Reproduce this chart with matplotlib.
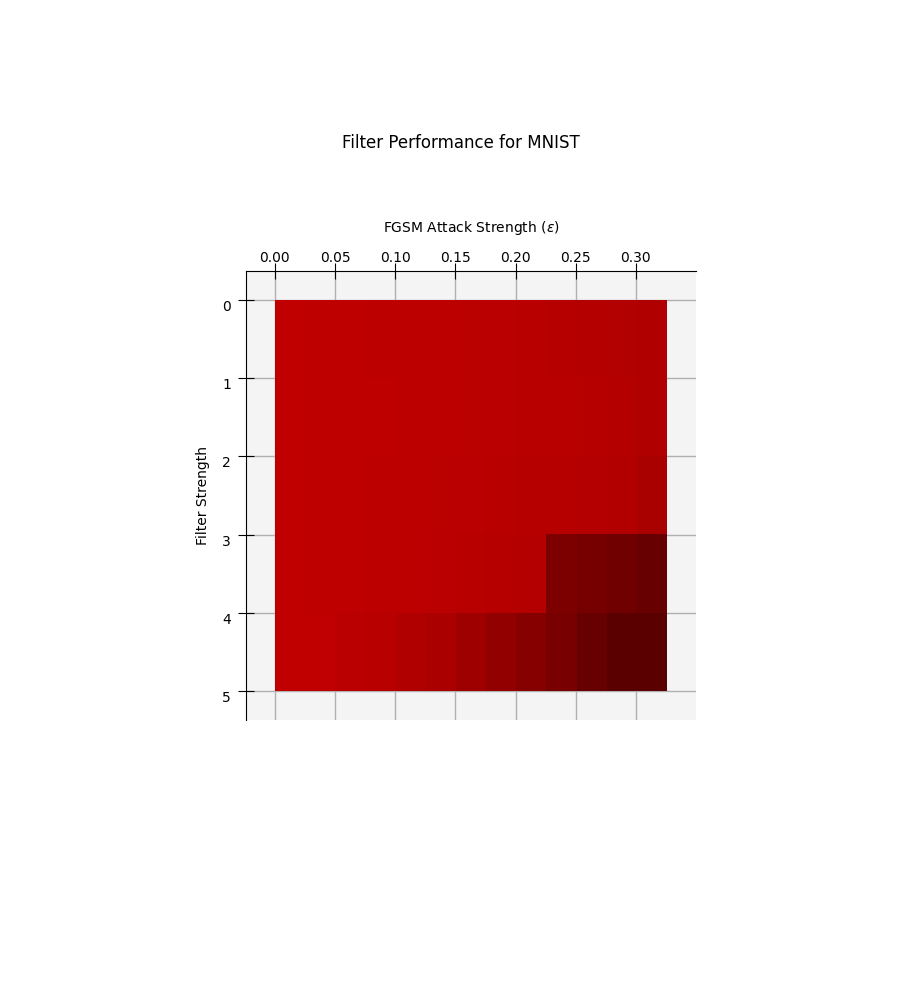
import numpy as np
import matplotlib
matplotlib.use("Agg")
import matplotlib.pyplot as plt
from matplotlib.colors import LinearSegmentedColormap

# FGSM attack strengths (columns) and filter strengths (rows)
eps = [0.0, 0.025, 0.05, 0.075, 0.1, 0.125, 0.15, 0.175, 0.2, 0.225, 0.25, 0.275, 0.3]
filters = [0, 1, 2, 3, 4]

# accuracy per filter strength (row) across attack strengths
acc_f0 = [1.00, 0.995, 0.99, 0.984, 0.979, 0.979, 0.974, 0.969, 0.958, 0.953, 0.943, 0.932, 0.915]
acc_f1 = [1.00, 0.995, 0.995, 0.99, 0.984, 0.979, 0.974, 0.969, 0.964, 0.958, 0.953, 0.943, 0.925]
acc_f2 = [1.00, 0.995, 0.99, 0.984, 0.979, 0.974, 0.969, 0.964, 0.953, 0.948, 0.938, 0.927, 0.880]
acc_f3 = [1.00, 0.995, 0.99, 0.984, 0.979, 0.969, 0.958, 0.948, 0.938, 0.646, 0.615, 0.583, 0.542]
acc_f4 = [1.00, 1.00, 0.969, 0.958, 0.917, 0.885, 0.823, 0.760, 0.700, 0.635, 0.540, 0.480, 0.475]

data = np.array([acc_f0, acc_f1, acc_f2, acc_f3, acc_f4])

cmap = LinearSegmentedColormap.from_list("darkred", ["#000000", "#c00000"])

fig = plt.figure(figsize=(9, 10), dpi=100)
ax = fig.add_axes([246 / 900, 1 - 720 / 1000, 450 / 900, 449 / 1000])
ax.set_facecolor("#f4f4f4")
ax.set_axisbelow(True)
ax.grid(True, color="#b0b0b0", linewidth=1)

step = eps[1] - eps[0]
ax.imshow(data, cmap=cmap, vmin=0, vmax=1, aspect="auto",
          interpolation="nearest",
          extent=(eps[0], eps[-1] + step, len(filters), 0), zorder=2)

ax.set_xlim(-0.024, 0.35)
ax.set_ylim(5.371, -0.371)
ax.set_xticks([0.0, 0.05, 0.10, 0.15, 0.20, 0.25, 0.30])
ax.set_yticks([0, 1, 2, 3, 4, 5])
ax.xaxis.tick_top()
ax.xaxis.set_label_position("top")
ax.tick_params(direction="inout", length=12, labelsize=10)
ax.tick_params(axis="x", pad=-1.5)
ax.tick_params(axis="y", pad=4.9)
for lbl in ax.get_yticklabels():
    lbl.set_verticalalignment("top")

for s in ["right", "bottom"]:
    ax.spines[s].set_visible(False)

ax.set_xlabel(r"FGSM Attack Strength ($\epsilon$)", fontsize=10, labelpad=13.5)
ax.set_ylabel("Filter Strength", fontsize=10, labelpad=8.4)

fig.text(461 / 900, 1 - 143 / 1000, "Filter Performance for MNIST",
         ha="center", va="center", fontsize=12)

fig.savefig("out.png", dpi=100)
